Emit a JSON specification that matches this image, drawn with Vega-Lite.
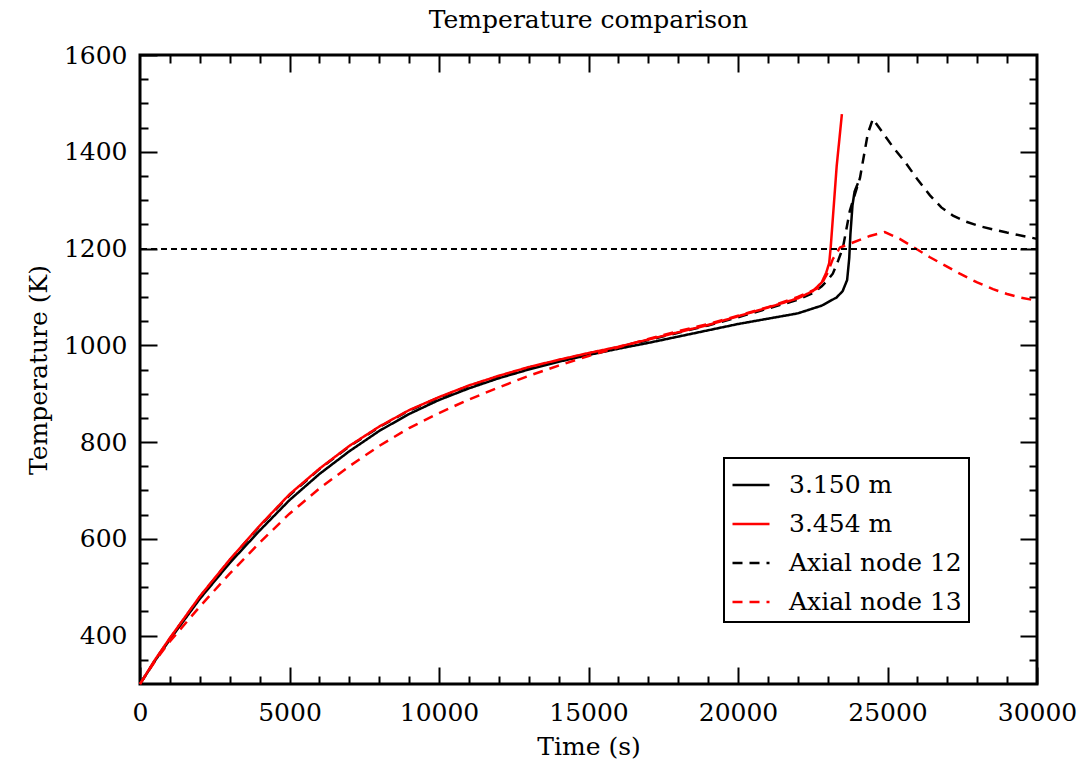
{
  "$schema": "https://vega.github.io/schema/vega-lite/v6.json",
  "width": 897,
  "height": 629,
  "autosize": {"type": "none"},
  "padding": {"left": 140, "top": 55, "right": 44, "bottom": 81},
  "background": "white",
  "title": {"text": "Temperature comparison", "font": "DejaVu Serif", "fontSize": 25, "fontWeight": "normal", "color": "black", "offset": 10, "anchor": "middle"},
  "config": {
    "view": {"stroke": "black", "strokeWidth": 3},
    "axis": {"domain": false, "grid": false, "format": "d", "labelFlush": false, "labelFont": "DejaVu Serif", "labelFontSize": 25, "labelColor": "black", "tickColor": "black", "tickWidth": 2, "titleFont": "DejaVu Serif", "titleFontSize": 25, "titleFontWeight": "normal", "titleColor": "black"},
    "legend": {"orient": "none", "legendX": 584, "legendY": 403, "strokeColor": "black", "strokeWidth": 2, "fillColor": "white", "padding": 7, "symbolType": "stroke", "symbolSize": 1369, "symbolStrokeWidth": 2.5, "labelFont": "DejaVu Serif", "labelFontSize": 25, "labelColor": "black", "labelOffset": 18, "labelLimit": 400, "rowPadding": 6, "title": null}
  },
  "data": {"values": [
    {"series": "3.150 m", "t": 0, "T": 300}, {"series": "3.150 m", "t": 500, "T": 348}, {"series": "3.150 m", "t": 1000, "T": 392}, {"series": "3.150 m", "t": 2000, "T": 476}, {"series": "3.150 m", "t": 3000, "T": 550}, {"series": "3.150 m", "t": 4000, "T": 617}, {"series": "3.150 m", "t": 5000, "T": 680}, {"series": "3.150 m", "t": 6000, "T": 734}, {"series": "3.150 m", "t": 7000, "T": 781}, {"series": "3.150 m", "t": 8000, "T": 823}, {"series": "3.150 m", "t": 9000, "T": 858}, {"series": "3.150 m", "t": 10000, "T": 887}, {"series": "3.150 m", "t": 11000, "T": 911}, {"series": "3.150 m", "t": 12000, "T": 932}, {"series": "3.150 m", "t": 13000, "T": 950}, {"series": "3.150 m", "t": 14000, "T": 966}, {"series": "3.150 m", "t": 15000, "T": 980}, {"series": "3.150 m", "t": 16000, "T": 993}, {"series": "3.150 m", "t": 17000, "T": 1005}, {"series": "3.150 m", "t": 18000, "T": 1018}, {"series": "3.150 m", "t": 19000, "T": 1031}, {"series": "3.150 m", "t": 20000, "T": 1044}, {"series": "3.150 m", "t": 21000, "T": 1055}, {"series": "3.150 m", "t": 22000, "T": 1066}, {"series": "3.150 m", "t": 22800, "T": 1082}, {"series": "3.150 m", "t": 23300, "T": 1099}, {"series": "3.150 m", "t": 23500, "T": 1112}, {"series": "3.150 m", "t": 23650, "T": 1135}, {"series": "3.150 m", "t": 23720, "T": 1180}, {"series": "3.150 m", "t": 23760, "T": 1230}, {"series": "3.150 m", "t": 23830, "T": 1290}, {"series": "3.150 m", "t": 23900, "T": 1318}, {"series": "3.150 m", "t": 24010, "T": 1335},
    {"series": "Axial node 12", "t": 0, "T": 300}, {"series": "Axial node 12", "t": 500, "T": 349}, {"series": "Axial node 12", "t": 1000, "T": 394}, {"series": "Axial node 12", "t": 2000, "T": 480}, {"series": "Axial node 12", "t": 3000, "T": 556}, {"series": "Axial node 12", "t": 4000, "T": 626}, {"series": "Axial node 12", "t": 5000, "T": 690}, {"series": "Axial node 12", "t": 6000, "T": 744}, {"series": "Axial node 12", "t": 7000, "T": 791}, {"series": "Axial node 12", "t": 8000, "T": 831}, {"series": "Axial node 12", "t": 9000, "T": 865}, {"series": "Axial node 12", "t": 10000, "T": 892}, {"series": "Axial node 12", "t": 11000, "T": 916}, {"series": "Axial node 12", "t": 12000, "T": 936}, {"series": "Axial node 12", "t": 13000, "T": 954}, {"series": "Axial node 12", "t": 14000, "T": 969}, {"series": "Axial node 12", "t": 15000, "T": 983}, {"series": "Axial node 12", "t": 16000, "T": 996}, {"series": "Axial node 12", "t": 17000, "T": 1011}, {"series": "Axial node 12", "t": 18000, "T": 1026}, {"series": "Axial node 12", "t": 19000, "T": 1041}, {"series": "Axial node 12", "t": 20000, "T": 1058}, {"series": "Axial node 12", "t": 21000, "T": 1076}, {"series": "Axial node 12", "t": 22000, "T": 1094}, {"series": "Axial node 12", "t": 22500, "T": 1108}, {"series": "Axial node 12", "t": 22800, "T": 1122}, {"series": "Axial node 12", "t": 23000, "T": 1135}, {"series": "Axial node 12", "t": 23170, "T": 1148}, {"series": "Axial node 12", "t": 23350, "T": 1175}, {"series": "Axial node 12", "t": 23510, "T": 1202}, {"series": "Axial node 12", "t": 23740, "T": 1278}, {"series": "Axial node 12", "t": 24080, "T": 1346}, {"series": "Axial node 12", "t": 24340, "T": 1437}, {"series": "Axial node 12", "t": 24510, "T": 1468}, {"series": "Axial node 12", "t": 25180, "T": 1410}, {"series": "Axial node 12", "t": 25600, "T": 1378}, {"series": "Axial node 12", "t": 26000, "T": 1343}, {"series": "Axial node 12", "t": 26420, "T": 1310}, {"series": "Axial node 12", "t": 26800, "T": 1285}, {"series": "Axial node 12", "t": 27190, "T": 1268}, {"series": "Axial node 12", "t": 27600, "T": 1256}, {"series": "Axial node 12", "t": 28090, "T": 1246}, {"series": "Axial node 12", "t": 28990, "T": 1233}, {"series": "Axial node 12", "t": 30000, "T": 1220},
    {"series": "3.454 m", "t": 0, "T": 300}, {"series": "3.454 m", "t": 500, "T": 350}, {"series": "3.454 m", "t": 1000, "T": 395}, {"series": "3.454 m", "t": 2000, "T": 481}, {"series": "3.454 m", "t": 3000, "T": 557}, {"series": "3.454 m", "t": 4000, "T": 627}, {"series": "3.454 m", "t": 5000, "T": 692}, {"series": "3.454 m", "t": 6000, "T": 745}, {"series": "3.454 m", "t": 7000, "T": 792}, {"series": "3.454 m", "t": 8000, "T": 832}, {"series": "3.454 m", "t": 9000, "T": 866}, {"series": "3.454 m", "t": 10000, "T": 893}, {"series": "3.454 m", "t": 11000, "T": 917}, {"series": "3.454 m", "t": 12000, "T": 937}, {"series": "3.454 m", "t": 13000, "T": 955}, {"series": "3.454 m", "t": 14000, "T": 970}, {"series": "3.454 m", "t": 15000, "T": 984}, {"series": "3.454 m", "t": 16000, "T": 997}, {"series": "3.454 m", "t": 17000, "T": 1012}, {"series": "3.454 m", "t": 18000, "T": 1027}, {"series": "3.454 m", "t": 19000, "T": 1042}, {"series": "3.454 m", "t": 20000, "T": 1060}, {"series": "3.454 m", "t": 21000, "T": 1078}, {"series": "3.454 m", "t": 22000, "T": 1097}, {"series": "3.454 m", "t": 22500, "T": 1112}, {"series": "3.454 m", "t": 22800, "T": 1130}, {"series": "3.454 m", "t": 22950, "T": 1150}, {"series": "3.454 m", "t": 23050, "T": 1170}, {"series": "3.454 m", "t": 23100, "T": 1202}, {"series": "3.454 m", "t": 23300, "T": 1370}, {"series": "3.454 m", "t": 23475, "T": 1478},
    {"series": "Axial node 13", "t": 0, "T": 300}, {"series": "Axial node 13", "t": 500, "T": 347}, {"series": "Axial node 13", "t": 1000, "T": 388}, {"series": "Axial node 13", "t": 2000, "T": 460}, {"series": "Axial node 13", "t": 3000, "T": 528}, {"series": "Axial node 13", "t": 4000, "T": 592}, {"series": "Axial node 13", "t": 5000, "T": 652}, {"series": "Axial node 13", "t": 6000, "T": 704}, {"series": "Axial node 13", "t": 7000, "T": 750}, {"series": "Axial node 13", "t": 8000, "T": 792}, {"series": "Axial node 13", "t": 9000, "T": 829}, {"series": "Axial node 13", "t": 10000, "T": 860}, {"series": "Axial node 13", "t": 11000, "T": 888}, {"series": "Axial node 13", "t": 12000, "T": 913}, {"series": "Axial node 13", "t": 13000, "T": 937}, {"series": "Axial node 13", "t": 14000, "T": 958}, {"series": "Axial node 13", "t": 15000, "T": 978}, {"series": "Axial node 13", "t": 16000, "T": 996}, {"series": "Axial node 13", "t": 17000, "T": 1013}, {"series": "Axial node 13", "t": 18000, "T": 1029}, {"series": "Axial node 13", "t": 19000, "T": 1044}, {"series": "Axial node 13", "t": 20000, "T": 1061}, {"series": "Axial node 13", "t": 21000, "T": 1079}, {"series": "Axial node 13", "t": 22000, "T": 1100}, {"series": "Axial node 13", "t": 22740, "T": 1120}, {"series": "Axial node 13", "t": 23000, "T": 1150}, {"series": "Axial node 13", "t": 23170, "T": 1178}, {"series": "Axial node 13", "t": 23410, "T": 1202}, {"series": "Axial node 13", "t": 23743, "T": 1210}, {"series": "Axial node 13", "t": 24410, "T": 1226}, {"series": "Axial node 13", "t": 24910, "T": 1234}, {"series": "Axial node 13", "t": 25410, "T": 1220}, {"series": "Axial node 13", "t": 26420, "T": 1182}, {"series": "Axial node 13", "t": 27420, "T": 1148}, {"series": "Axial node 13", "t": 28000, "T": 1130}, {"series": "Axial node 13", "t": 28530, "T": 1116}, {"series": "Axial node 13", "t": 29000, "T": 1106}, {"series": "Axial node 13", "t": 29430, "T": 1099}, {"series": "Axial node 13", "t": 30000, "T": 1092}
  ]},
  "resolve": {"axis": {"x": "independent", "y": "independent"}},
  "layer": [
    {
      "mark": {"type": "line", "strokeWidth": 2.5},
      "encoding": {
        "x": {"field": "t", "type": "quantitative", "scale": {"domain": [0, 30000], "nice": false, "zero": false, "padding": 0},
              "axis": {"orient": "bottom", "values": [0, 5000, 10000, 15000, 20000, 25000, 30000], "tickSize": -17, "labelPadding": 33, "title": "Time (s)", "titlePadding": 9}},
        "y": {"field": "T", "type": "quantitative", "scale": {"domain": [300, 1600], "nice": false, "zero": false, "padding": 0},
              "axis": {"orient": "left", "values": [400, 600, 800, 1000, 1200, 1400, 1600], "tickSize": -17, "labelPadding": 30, "title": "Temperature (K)", "titlePadding": 12}},
        "color": {"field": "series", "type": "nominal", "sort": null,
                  "scale": {"domain": ["3.150 m", "3.454 m", "Axial node 12", "Axial node 13"], "range": ["#000000", "#ff0000", "#000000", "#ff0000"]}},
        "strokeDash": {"field": "series", "type": "nominal", "sort": null,
                  "scale": {"domain": ["3.150 m", "3.454 m", "Axial node 12", "Axial node 13"], "range": [[1, 0], [1, 0], [10, 7], [10, 7]]}}
      }
    },
    {
      "mark": {"type": "rule", "color": "black", "strokeWidth": 1, "strokeDash": [6, 4]},
      "encoding": {"y": {"datum": 1200, "type": "quantitative", "axis": null}}
    },
    {
      "mark": {"type": "point", "opacity": 0},
      "encoding": {
        "x": {"field": "t", "type": "quantitative",
              "axis": {"orient": "bottom", "values": [1000, 2000, 3000, 4000, 6000, 7000, 8000, 9000, 11000, 12000, 13000, 14000, 16000, 17000, 18000, 19000, 21000, 22000, 23000, 24000, 26000, 27000, 28000, 29000], "tickSize": -8, "labels": false, "title": null}},
        "y": {"field": "T", "type": "quantitative",
              "axis": {"orient": "left", "values": [350, 450, 500, 550, 650, 700, 750, 850, 900, 950, 1050, 1100, 1150, 1250, 1300, 1350, 1450, 1500, 1550], "tickSize": -8, "labels": false, "title": null}}
      }
    },
    {
      "mark": {"type": "point", "opacity": 0},
      "encoding": {
        "x": {"field": "t", "type": "quantitative",
              "axis": {"orient": "top", "values": [5000, 10000, 15000, 20000, 25000], "tickSize": -17, "labels": false, "title": null}},
        "y": {"field": "T", "type": "quantitative",
              "axis": {"orient": "right", "values": [400, 600, 800, 1000, 1200, 1400], "tickSize": -17, "labels": false, "title": null}}
      }
    },
    {
      "mark": {"type": "point", "opacity": 0},
      "encoding": {
        "x": {"field": "t", "type": "quantitative",
              "axis": {"orient": "top", "values": [1000, 2000, 3000, 4000, 6000, 7000, 8000, 9000, 11000, 12000, 13000, 14000, 16000, 17000, 18000, 19000, 21000, 22000, 23000, 24000, 26000, 27000, 28000, 29000], "tickSize": -8, "labels": false, "title": null}},
        "y": {"field": "T", "type": "quantitative",
              "axis": {"orient": "right", "values": [350, 450, 500, 550, 650, 700, 750, 850, 900, 950, 1050, 1100, 1150, 1250, 1300, 1350, 1450, 1500, 1550], "tickSize": -8, "labels": false, "title": null}}
      }
    }
  ]
}
